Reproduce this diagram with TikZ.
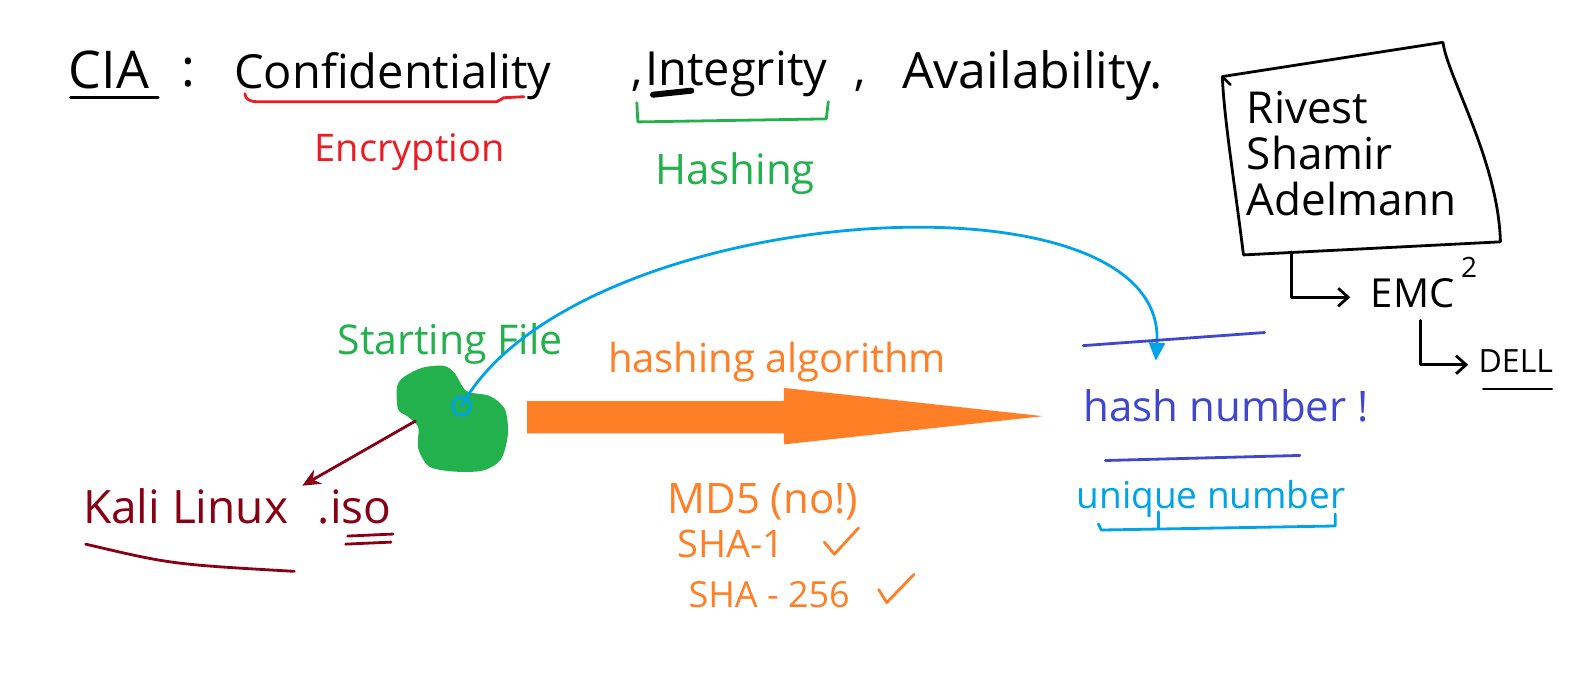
\documentclass[tikz,border=0pt]{standalone}
\usepackage{fontspec}
\setmainfont{Open Sans}
\usetikzlibrary{arrows.meta}
\definecolor{pred}{RGB}{237,28,36}
\definecolor{pgreen}{RGB}{34,177,76}
\definecolor{pdarkred}{RGB}{136,0,21}
\definecolor{porange}{RGB}{255,127,39}
\definecolor{pindigo}{RGB}{63,72,204}
\definecolor{pblue}{RGB}{0,162,232}
\tikzset{
  pen/.style={line width=1.4pt,line cap=round,line join=round},
  ink/.style={inner sep=0pt,anchor=base west,font=\fontsize{#1}{#1}\selectfont},
  barb/.style={-{Straight Barb[length=5pt,width=9pt]}},
}

\begin{document}
\begin{tikzpicture}[x=0.50383pt,y=-0.50383pt]
        \useasboundingbox (0,0) rectangle (1568,675);
        \fill[white] (0,0) rectangle (1568,675);
        % top line
        \node (cia) at (68,88) [ink=26] {CIA};
        \node (colon) at (180,86) [ink=26] {:};
        \node (conf) at (232,88) [ink=23.5] {Confidentiality};
        \node (comma1) at (626,85) [ink=23] {,};
        \node (integ) at (640,85) [ink=23.5] {Integrity};
        \node (comma2) at (848,85) [ink=23] {,};
        \node (avail) at (895,88) [ink=25] {Availability.};
        \draw[pen] (70,97) -- (157,97);
        \draw[pen,pred] (243,93) to[out=-90,in=180] (255,101) -- (493,101) -- (500,97) -- (520,96);
        \node (encr) at (312,160) [ink=19,text=pred] {Encryption};
        \draw[line width=3pt,line cap=round] (648,94) -- (686,90);
        \draw[pen,pgreen] (632,102) -- (633,121) -- (820,118) -- (822,101);
        \node (hashing) at (650,183) [ink=21,text=pgreen] {Hashing};
        % RSA box
        \draw[pen] (1213,76) -- (1432,42) .. controls (1436,75) and (1487,160) .. (1489,240)
          -- (1234,253) .. controls (1225,180) and (1215,120) .. (1213,76);
        \draw[pen] (1213,76) -- (1221,84);
        \node (rsa) at (1237,90) [ink=22,anchor=north west,align=left,font=\fontsize{22}{23}\selectfont] {Rivest\\Shamir\\Adelmann};
        \node (emc) at (1360,305) [ink=20] {EMC\,\raisebox{0.75em}{\fontsize{14}{14}\selectfont 2}};
        \node (dell) at (1467,370) [ink=16] {DELL};
        \draw[pen] (1472,386) -- (1540,386);
        \coordinate (boxfoot) at (1282,250);
        \coordinate (emcin) at (1340,295);
        \coordinate (emcfoot) at (1410,318);
        \coordinate (dellin) at (1457,362);
        \draw[pen,barb] (boxfoot) |- (emcin);
        \draw[pen,barb] (emcfoot) |- (dellin);
        % starting file
        \fill[pgreen] plot[smooth cycle] coordinates {(394,384) (401,374) (419,365) (440,363) (451,370) (463,388) (486,393) (501,406) (504,431) (497,456) (479,467) (451,468) (426,463) (415,445) (415,424) (404,413) (395,406)};
        \node (start) at (335,352) [ink=20.5,text=pgreen] {Starting File};
        \coordinate (filedot) at (458,403);
        \coordinate (blobedge) at (412,418);
        \coordinate (kalitip) at (300,482);
        \draw[pen,pblue] (filedot) circle[radius=4.5pt];
        \draw[pen,pdarkred,-{Stealth[length=9pt,width=8pt]}] (blobedge) -- (kalitip);
        \node (kali) at (82,520) [ink=23,text=pdarkred] {Kali Linux};
        \node (iso) at (315,520) [ink=23,text=pdarkred] {.iso};
        \draw[pen,pdarkred] (85,540) .. controls (170,560) .. (292,567);
        \draw[pen,pdarkred] (345,532) -- (390,530);
        \draw[pen,pdarkred] (343,540) -- (388,538);
        % algorithm
        \coordinate (algfrom) at (523,414);
        \coordinate (algto) at (1035,413);
        \fill[porange] (algfrom) -- (523,398) -- (778,398) -- (778,385) -- (algto)
          -- (778,441) -- (778,430) -- (523,430) -- cycle;
        \node (algo) at (603,370) [ink=20,text=porange] {hashing algorithm};
        \node (md5) at (662,510) [ink=21,text=porange] {MD5 (no!)};
        \node (sha1) at (672,553) [ink=19,text=porange] {SHA-1};
        \node (sha256) at (683,603) [ink=18,text=porange] {SHA - 256};
        \draw[pen,porange] (818,538) -- (828,550) -- (852,524);
        \draw[pen,porange] (872,585) -- (880,598) -- (907,570);
        % hash
        \coordinate (hashtop) at (1147,358);
        \draw[pen,pblue,-{Triangle[length=9pt,width=8pt]}] (filedot) .. controls (570,200) and (1160,160) .. (hashtop);
        \draw[pen,pindigo] (1075,343) -- (1255,330);
        \node (hash) at (1075,418) [ink=21,text=pindigo] {hash number !};
        \draw[pen,pindigo] (1097,457) -- (1290,452);
        \node (uniq) at (1068,505) [ink=18.5,text=pblue] {unique number};
        \draw[pen,pblue] (1090,520) -- (1093,526) -- (1325,522) -- (1325,510);
        \draw[pen,pblue] (1150,508) -- (1150,524);
      \end{tikzpicture}
\end{document}
